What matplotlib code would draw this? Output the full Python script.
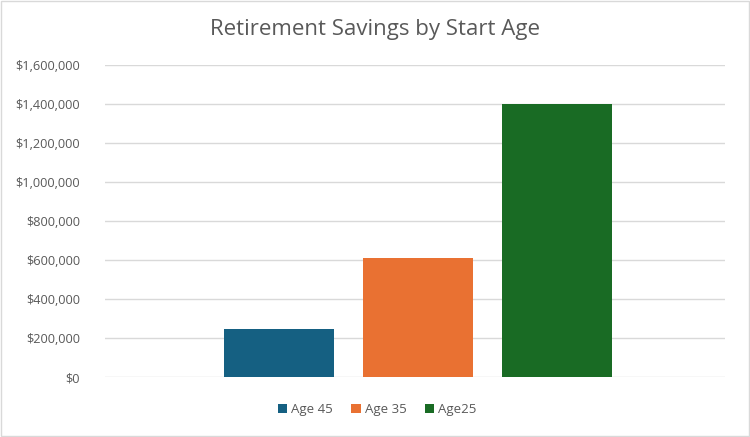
import matplotlib.pyplot as plt
from matplotlib.ticker import FuncFormatter
from matplotlib.patches import Rectangle

series = ["Age 45", "Age 35", "Age25"]
values = [246000, 612000, 1398000]
colors = ["#156082", "#E97132", "#196B24"]
yticks = [0, 200000, 400000, 600000, 800000, 1000000, 1200000, 1400000, 1600000]

plt.rcParams['font.family'] = ['Open Sans', 'DejaVu Sans']

fig = plt.figure(figsize=(7.5, 4.37), dpi=100)
ax = fig.add_axes([0.14, 0.1366, 0.827, 0.7146])

width = 0.177
offsets = [-0.219, 0.005, 0.229]
for name, v, c, o in zip(series, values, colors, offsets):
    ax.bar(o, v, width=width, color=c, label=name, zorder=3)

ax.set_xlim(-0.5, 0.5)
ax.set_ylim(0, 1600000)
ax.set_yticks(yticks)
ax.yaxis.set_major_formatter(FuncFormatter(lambda v, p: "${:,.0f}".format(v)))
ax.set_xticks([])
ax.grid(axis='y', color='#d9d9d9', linewidth=1, zorder=0)
for s in ax.spines.values():
    s.set_visible(False)
ax.tick_params(axis='y', length=0, labelsize=9.2, labelcolor='#595959', pad=18)

fig.text(0.5, 0.932, "Retirement Savings by Start Age", ha='center', va='center',
         fontsize=16, color='#595959')

leg = fig.legend(loc='center', bbox_to_anchor=(0.503, 0.062), ncol=3, frameon=False,
                 fontsize=9.5, handlelength=0.7, handleheight=0.7, handletextpad=0.3,
                 columnspacing=1.4)
for t in leg.get_texts():
    t.set_color('#595959')

fig.patches.append(Rectangle((0.001, 0.002), 0.997, 0.995, transform=fig.transFigure,
                             fill=False, edgecolor='#d9d9d9', linewidth=1))

fig.savefig("out.png", dpi=100)
